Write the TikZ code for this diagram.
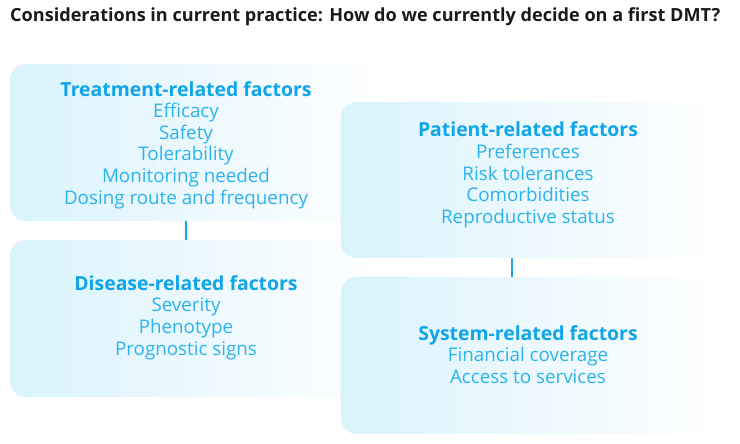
\documentclass[tikz,border=0pt]{standalone}
\usepackage{fontspec}
\setmainfont{Open Sans}
\usetikzlibrary{fadings}
\definecolor{bx}{HTML}{D9F3FC}
\definecolor{hd}{HTML}{0FA5E8}
\definecolor{bd}{HTML}{2BB3EE}
\definecolor{ln}{HTML}{1AA6E6}
\definecolor{tt}{HTML}{1A1A1A}
\tikzfading[name=fadeR, left color=transparent!0, middle color=transparent!10, right color=transparent!100]
\tikzset{
  box/.style={rectangle, rounded corners=16pt, fill=bx, path fading=fadeR, inner sep=0pt},
  txt/.style={align=center, inner sep=0pt, text=bd, font=\fontsize{18.8}{21.6}\selectfont},
  conn/.style={draw=ln, line width=2pt}
}
\newcommand{\hdr}[1]{{\fontsize{19.4}{21.6}\selectfont\bfseries\color{hd}#1}}
\begin{document}
\begin{tikzpicture}[x=1pt,y=-1pt]
\useasboundingbox (0,0) rectangle (740,444);
\node[anchor=base west, inner sep=0pt, text=tt, font=\fontsize{18.1}{20}\selectfont\bfseries] (title) at (10,22) {Considerations in current practice: How do we currently decide on a first DMT?};
\node[box, minimum width=378pt, minimum height=157pt] (b1) at (199,142.5) {};
\node[box, minimum width=378pt, minimum height=157pt] (b3) at (199,318.5) {};
\node[box, minimum width=379pt, minimum height=156pt] (b2) at (530.5,180) {};
\node[box, minimum width=379pt, minimum height=157pt] (b4) at (530.5,355.5) {};
\node[txt] (t1) at (186,145) {\hdr{Treatment-related factors}\\Efficacy\\Safety\\Tolerability\\Monitoring needed\\Dosing route and frequency};
\node[txt] (t2) at (528,175) {\hdr{Patient-related factors}\\Preferences\\Risk tolerances\\Comorbidities\\Reproductive status};
\node[txt] (t3) at (186,317.5) {\hdr{Disease-related factors}\\Severity\\Phenotype\\Prognostic signs};
\node[txt] (t4) at (528,354.5) {\hdr{System-related factors}\\Financial coverage\\Access to services};
\draw[conn] (b1.south -| t1.center) -- (b3.north -| t1.center);
\draw[conn] ([xshift=-18.5pt]b2.south) -- ([xshift=-18.5pt]b2.south |- b4.north);
\end{tikzpicture}
\end{document}
